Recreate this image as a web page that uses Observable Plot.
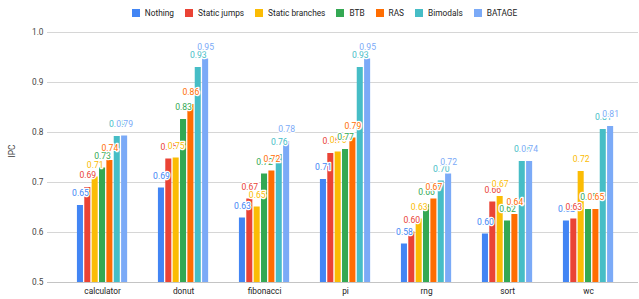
<!DOCTYPE html>
<html><head><meta charset="utf-8">
<script src="https://cdn.jsdelivr.net/npm/d3@7"></script>
<script src="https://cdn.jsdelivr.net/npm/@observablehq/plot@0.6"></script>
<style>
html,body{margin:0;padding:0;background:#fff;}
#legend{height:25px;display:flex;justify-content:center;align-items:center;padding-left:10px;}
#legend .lg-swatches{min-height:0;margin:0;font-size:8.3px;font-family:Roboto,"Liberation Sans",Arial,sans-serif;color:#222;}
#legend .lg-swatch{margin-right:11px;}
#legend .lg-swatch:last-child{margin-right:0;}
#legend .lg-swatch > svg{margin-right:5px;}
#chart svg{display:block;}
</style></head>
<body>
<div id="legend"></div>
<div id="chart"></div>
<script>
const categories = ["calculator","donut","fibonacci","pi","rng","sort","wc"];
const series = ["Nothing","Static jumps","Static branches","BTB","RAS","Bimodals","BATAGE"];
const colors = ["#4285F4","#EA4335","#FBBC04","#34A853","#FF6D01","#46BDC6","#7BAAF7"];
const nothing        = [0.654,0.689,0.629,0.706,0.577,0.597,0.623];
const staticJumps    = [0.690,0.747,0.667,0.758,0.601,0.661,0.627];
const staticBranches = [0.711,0.749,0.651,0.761,0.627,0.672,0.722];
const btb            = [0.729,0.826,0.717,0.766,0.656,0.623,0.646];
const ras            = [0.744,0.856,0.723,0.789,0.667,0.636,0.646];
const bimodals       = [0.792,0.930,0.756,0.930,0.703,0.742,0.806];
const batage         = [0.793,0.947,0.782,0.947,0.717,0.742,0.812];
const yTicks = [0.5,0.6,0.7,0.8,0.9,1.0];
const yDomain = [0.5,1.0];

const seriesValues = [nothing,staticJumps,staticBranches,btb,ras,bimodals,batage];
const key = (c,s)=>c+"|"+s;
const rows = [];
categories.forEach((c,i)=>series.forEach((s,j)=>rows.push({category:c,series:s,key:key(c,s),v:seriesValues[j][i]})));
// band domain: two spacer slots each side of every category group
const xDomain = categories.flatMap(c=>[key(c,"_a"),key(c,"_b"),...series.map(s=>key(c,s)),key(c,"_c"),key(c,"_d")]);
const mid = series[Math.floor(series.length/2)];

const font = 'Roboto, "Liberation Sans", Arial, sans-serif';

const legend = Plot.legend({
  color:{type:"ordinal",domain:series,range:colors},
  legend:"swatches", swatchSize:8, className:"lg"
});
document.getElementById("legend").appendChild(legend);

const chart = Plot.plot({
  width:639, height:274,
  marginLeft:47, marginRight:1, marginTop:7, marginBottom:17,
  style:{fontFamily:font, fontSize:"8.3px", background:"#fff", overflow:"visible"},
  x:{domain:xDomain, paddingInner:0.18, paddingOuter:1.72, align:0.6, round:false},
  y:{domain:yDomain},
  color:{domain:series, range:colors},
  marks:[
    Plot.ruleY(yTicks.filter(t=>t!==yDomain[0]), {stroke:"#d6d6d6", strokeWidth:1}),
    Plot.ruleY([yDomain[0]], {stroke:"#c4c4c4", strokeWidth:1.2}),
    Plot.barY(rows, {x:"key", y1:yDomain[0], y2:"v", fill:"series"}),
    Plot.text(rows, {x:"key", y:"v", text:d=>d.v.toFixed(2), fill:"series",
      stroke:"white", strokeWidth:2.5, lineAnchor:"bottom", dy:-9.5, fontSize:8.6}),
    Plot.axisY({ticks:yTicks, tickSize:0, tickPadding:4, tickFormat:d=>d.toFixed(1), label:null, color:"#444"}),
    Plot.text(["IPC"], {frameAnchor:"left", dx:-35, rotate:-90, text:d=>d, fill:"#444"}),
    Plot.axisX({ticks:categories.map(c=>key(c,mid)), tickFormat:d=>d.split("|")[0],
      tickSize:0, tickPadding:6, label:null, color:"#222"})
  ]
});
document.getElementById("chart").appendChild(chart);
</script>
</body></html>
